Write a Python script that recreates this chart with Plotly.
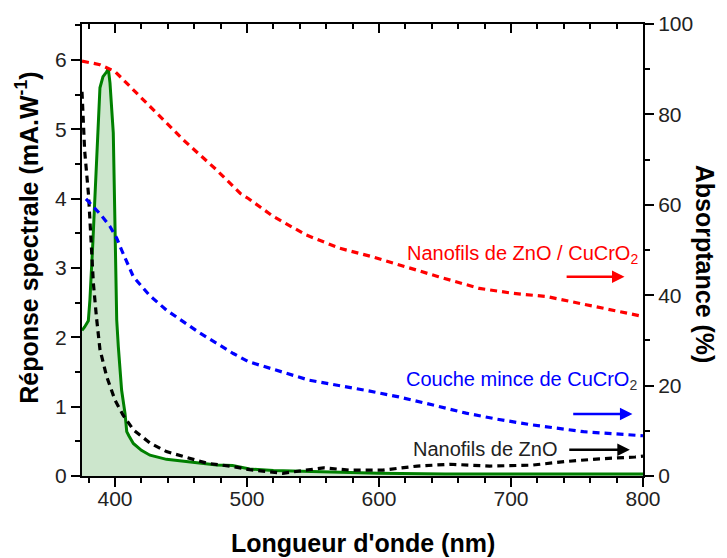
import plotly.graph_objects as go

# ---- Data ----
# Spectral response (left axis, mA/W) - green filled curve
wl_resp = [375, 377, 379.8, 381, 383.3, 384.8, 386.5, 388.6, 390.9, 393.7, 394.9, 396.2,
           398.7, 400, 401.3, 402.5, 405, 407.6, 408.9, 410.5, 413.9, 420, 426.5, 439,
           452, 464, 477, 489, 502, 520, 540, 560, 580, 600, 650, 700, 750, 800]
resp = [2.1, 2.15, 2.24, 2.54, 3.4, 4.0, 4.8, 5.6, 5.76, 5.83, 5.88, 5.67,
        4.95, 3.3, 2.25, 1.87, 1.24, 0.9, 0.64, 0.58, 0.47, 0.37, 0.30, 0.24,
        0.21, 0.18, 0.16, 0.15, 0.10, 0.08, 0.07, 0.05, 0.05, 0.04, 0.03, 0.03, 0.03, 0.03]

# Absorptance (right axis, %) - ZnO nanowires (black)
wl_zno = [375, 377, 380, 383.6, 386, 388.6, 393.7, 400, 406, 414, 426.5, 439, 452, 470,
          489, 502, 527, 546, 558, 578, 603, 629, 654, 684, 716, 741, 767, 794, 800]
abs_zno = [85, 72, 62, 42.7, 35, 28, 22, 16.8, 13.5, 10.2, 7.3, 5.4, 4.3, 2.8,
           2.1, 1.4, 0.6, 1.3, 1.8, 1.3, 1.3, 2.2, 2.6, 2.2, 2.4, 3.2, 3.8, 4.2, 4.4]

# Absorptance - CuCrO2 thin film (blue)
wl_film = [378, 388.6, 396, 401.3, 405, 413.9, 426, 439, 464.4, 489.6, 501, 547, 589, 615, 641,
           666, 689, 716, 755, 794, 800]
abs_film = [61.3, 58, 55.3, 52.6, 50.0, 44.1, 40.0, 36.7, 31.6, 27.1, 25.3, 21.2, 19, 17.5, 15.7,
            13.9, 12.6, 11.3, 9.8, 9.1, 8.9]

# Absorptance - ZnO / CuCrO2 nanowires (red)
wl_het = [375, 388.6, 400, 426.5, 452, 477, 495, 501, 520, 545, 570, 595, 603, 620,
          645, 676, 702, 727, 752, 777, 794, 800]
abs_het = [91.8, 91, 89.5, 81.7, 74.3, 67.7, 62.5, 61.4, 57.4, 53.3, 50.4, 48.5, 47.8,
           46.2, 44.1, 41.5, 40.4, 39.7, 38.2, 36.7, 35.6, 35.3]

# Tick values
x_ticks = [400, 500, 600, 700, 800]
y_left_ticks = [0, 1, 2, 3, 4, 5, 6]
y_right_ticks = [0, 20, 40, 60, 80, 100]

# Labels (text, right-edge x in nm, y in %, colour) and arrows (x0, x1, y in %)
labels = [
    ("Nanofils de ZnO / CuCrO<sub>2</sub>", 798, 48.9, "#ff0000"),
    ("Couche mince de CuCrO<sub><span style='color:#333333'>2</span></sub>", 797, 21.2, "#0000ff"),
    ("Nanofils de ZnO", 737, 5.9, "#222222"),
]
arrows = [
    (741, 786, 44.1, "#ff0000"),
    (746, 792, 13.7, "#0000ff"),
    (743, 790, 5.8, "#000000"),
]

FONT = "Arial, Liberation Sans, sans-serif"

fig = go.Figure()

fig.add_trace(go.Scatter(
    x=wl_resp, y=resp, mode="lines", fill="tozeroy",
    fillcolor="rgba(0,128,0,0.2)", line=dict(color="#008000", width=3),
    xaxis="x", yaxis="y", showlegend=False))

fig.add_trace(go.Scatter(
    x=wl_zno, y=abs_zno, mode="lines", line=dict(color="black", width=3.2, dash="7px,5px"),
    xaxis="x", yaxis="y2", showlegend=False))
fig.add_trace(go.Scatter(
    x=wl_film, y=abs_film, mode="lines", line=dict(color="#0000ff", width=3.2, dash="7px,5px"),
    xaxis="x", yaxis="y2", showlegend=False))
fig.add_trace(go.Scatter(
    x=wl_het, y=abs_het, mode="lines", line=dict(color="#ff0000", width=3.2, dash="7px,5px"),
    xaxis="x", yaxis="y2", showlegend=False))

# invisible trace for top axis
fig.add_trace(go.Scatter(x=[600], y=[0], mode="markers", marker=dict(opacity=0),
                         xaxis="x2", yaxis="y", showlegend=False, hoverinfo="skip"))

annotations = []
for text, xr, yv, col in labels:
    annotations.append(dict(text=text, x=xr, y=yv, xref="x", yref="y2",
                            xanchor="right", yanchor="middle", showarrow=False,
                            font=dict(family=FONT, size=20, color=col)))
for x0, x1, yv, col in arrows:
    annotations.append(dict(x=x1, y=yv, ax=x0, ay=yv, xref="x", yref="y2",
                            axref="x", ayref="y2", showarrow=True, arrowhead=2,
                            arrowsize=1, arrowwidth=2.5, arrowcolor=col, text=""))

annotations.append(dict(text="<b>Longueur d'onde (nm)</b>", x=0.5, y=-0.148,
                        xref="paper", yref="paper", showarrow=False,
                        xanchor="center", yanchor="middle",
                        font=dict(family=FONT, size=25, color="black")))
annotations.append(dict(text="<b>Réponse spectrale (mA.W<sup>-1</sup>)</b>", x=-0.098, y=0.527,
                        xref="paper", yref="paper", showarrow=False, textangle=-90,
                        xanchor="center", yanchor="middle",
                        font=dict(family=FONT, size=25, color="black")))
annotations.append(dict(text="<b>Absorptance (%)</b>", x=1.11, y=0.468,
                        xref="paper", yref="paper", showarrow=False, textangle=90,
                        xanchor="center", yanchor="middle",
                        font=dict(family=FONT, size=25, color="black")))

tickfont = dict(family=FONT, size=21, color="#222222")

# page body has an 8px default margin -> figure is 8px smaller and margins shifted
fig.update_layout(
    width=719, height=550,
    margin=dict(l=74, r=84, t=16, b=82, autoexpand=False),
    paper_bgcolor="white", plot_bgcolor="white",
    annotations=annotations,
    xaxis=dict(range=[375, 800], tickvals=x_ticks, ticks="outside", ticklen=9,
               tickwidth=2, tickcolor="black", showline=True, linewidth=2,
               linecolor="black", showgrid=False, zeroline=False, tickfont=tickfont,
               automargin=False, ticklabelstandoff=-6,
               minor=dict(dtick=20, tick0=380, ticks="outside", ticklen=5,
                          tickwidth=2, tickcolor="black", showgrid=False)),
    xaxis2=dict(range=[375, 800], overlaying="x", side="top", tickvals=x_ticks,
                ticks="inside", ticklen=9, tickwidth=2, tickcolor="black",
                showline=True, linewidth=2, linecolor="black", showgrid=False,
                zeroline=False, showticklabels=False, anchor="y", automargin=False,
                minor=dict(dtick=20, tick0=380, ticks="inside", ticklen=5,
                           tickwidth=2, tickcolor="black", showgrid=False)),
    yaxis=dict(range=[0, 6.52], tickvals=y_left_ticks, ticks="outside", ticklen=9,
               tickwidth=2, tickcolor="black", showline=True, linewidth=2,
               linecolor="black", showgrid=False, zeroline=False, tickfont=tickfont,
               automargin=False,
               minor=dict(dtick=0.5, ticks="outside", ticklen=5, tickwidth=2,
                          tickcolor="black", showgrid=False)),
    yaxis2=dict(range=[0, 100], overlaying="y", side="right", tickvals=y_right_ticks,
                ticks="outside", ticklen=9, tickwidth=2, tickcolor="black",
                showline=True, linewidth=2, linecolor="black", showgrid=False,
                zeroline=False, tickfont=tickfont, automargin=False,
                minor=dict(dtick=10, ticks="outside", ticklen=5, tickwidth=2,
                           tickcolor="black", showgrid=False)),
)

fig.write_html("out.html")
